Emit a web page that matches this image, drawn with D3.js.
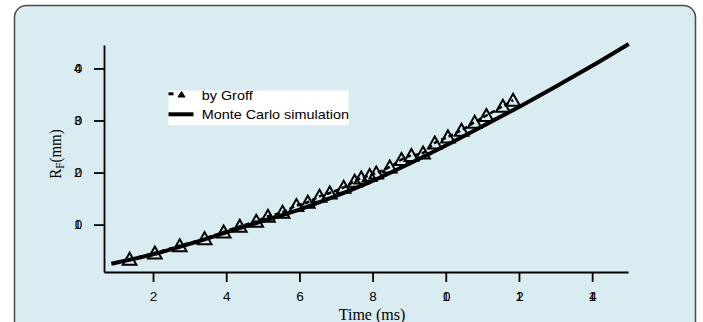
<!DOCTYPE html>
<html>
<head>
<meta charset="utf-8">
<script src="https://cdn.jsdelivr.net/npm/d3@7"></script>
<style>
    body { margin: 0; background: #fff; }
    svg { display: block; }
</style>
</head>
<body>
<div class="vis"></div>
<script>
(function () {
    const svgWidth = 703;
    const svgHeight = 322;

    // Monte Carlo simulation (solid curve)
    var mcTime = [0.86, 2, 3, 4, 5, 6, 7, 8, 9, 10, 11, 12, 13, 14, 15];
    var mcRadius = [2.5, 4.3, 6.3, 8.5, 10.7, 12.9, 15.5, 18.4, 21.7, 25.2, 28.9, 32.6, 36.5, 40.5, 44.7];

    // Groff measurements (triangles)
    var groffTime = [1.36, 2.05, 2.73, 3.41, 3.93, 4.37, 4.82, 5.14, 5.54, 5.92, 6.23, 6.55, 6.83, 7.21, 7.51,
        7.69, 7.92, 8.10, 8.47, 8.79, 9.06, 9.38, 9.70, 10.06, 10.43, 10.79, 11.11, 11.56, 11.84];
    var groffRadius = [3.33, 4.54, 5.96, 7.31, 8.58, 9.67, 10.63, 11.6, 12.37, 13.65, 14.29, 15.44, 16.08, 17.17, 18.33,
        18.96, 19.42, 19.92, 21.08, 22.5, 23.27, 23.77, 25.69, 26.85, 28.13, 29.67, 30.96, 32.75, 33.9];

    var xTicks = [2, 4, 6, 8, 10, 12, 14];
    var yTicks = [10, 20, 30, 40];

    var svg = d3.select('.vis')
        .append('svg')
            .attr('width', svgWidth)
            .attr('height', svgHeight);

    // panel background
    svg.append('rect')
        .attr('x', 14.5)
        .attr('y', 5.5)
        .attr('width', 681)
        .attr('height', 340)
        .attr('rx', 12)
        .attr('fill', '#d8ecf1')
        .attr('stroke', '#4a4a4a')
        .attr('stroke-width', 1.5);

    var xScale = d3.scaleLinear()
        .domain([0.66, 14.98])
        .range([104, 628]);

    var yScale = d3.scaleLinear()
        .domain([0.9, 44.5])
        .range([272, 45]);

    // two-digit labels are drawn with the digits almost on top of each other, as in the original
    function overlapLabels(sel, anchorShift) {
        sel.selectAll('.tick text')
            .attr('font-family', 'Liberation Sans, Arial, sans-serif')
            .attr('font-size', 13.5)
            .attr('fill', '#000')
            .each(function (d) {
                var t = d3.select(this);
                if (String(d).length > 1) {
                    t.attr('text-anchor', 'start')
                        .attr('letter-spacing', '-0.5em')
                        .attr('dx', anchorShift);
                }
            });
    }

    var xAxis = d3.axisBottom(xScale)
        .tickValues(xTicks)
        .tickSize(10)
        .tickSizeOuter(0)
        .tickPadding(9);

    var callxAxis = svg.append('g')
        .attr('transform', 'translate(0, 272)')
        .call(xAxis);
    callxAxis.select('.domain').attr('stroke-width', 1.8);
    callxAxis.selectAll('.tick line').attr('stroke-width', 1.8);
    overlapLabels(callxAxis, '-0.3em');

    var yAxis = d3.axisLeft(yScale)
        .tickValues(yTicks)
        .tickSize(10)
        .tickSizeOuter(0)
        .tickPadding(12);

    var callyAxis = svg.append('g')
        .attr('transform', 'translate(104, 0)')
        .call(yAxis);
    callyAxis.select('.domain').attr('stroke-width', 1.8);
    callyAxis.selectAll('.tick line').attr('stroke-width', 1.8);
    overlapLabels(callyAxis, '-0.6em');

    // axis titles
    svg.append('text')
        .attr('x', 372)
        .attr('y', 319.5)
        .attr('text-anchor', 'middle')
        .attr('font-family', 'Liberation Serif, Times New Roman, serif')
        .attr('font-size', 16)
        .text('Time (ms)');

    var yTitle = svg.append('text')
        .attr('transform', 'translate(61, 154) rotate(-90) scale(1, 1.15)')
        .attr('text-anchor', 'middle')
        .attr('font-family', 'Liberation Serif, Times New Roman, serif')
        .attr('font-size', 15);
    yTitle.append('tspan').text('R');
    yTitle.append('tspan').attr('font-size', 11).attr('dy', 3).text('F');
    yTitle.append('tspan').attr('dy', -3).text('(mm)');

    var mcData = mcTime.map(function (t, i) { return { t: t, r: mcRadius[i] }; });
    var groffData = groffTime.map(function (t, i) { return { t: t, r: groffRadius[i] }; });

    var line = d3.line()
        .x(function (d) { return xScale(d.t); })
        .y(function (d) { return yScale(d.r); })
        .curve(d3.curveCatmullRom);

    // Groff: dashed line with open triangles
    svg.append('path')
        .datum(groffData)
        .attr('d', line)
        .attr('fill', 'none')
        .attr('stroke', '#000')
        .attr('stroke-width', 2.5)
        .attr('stroke-dasharray', '5,3');

    // Monte Carlo curve
    svg.append('path')
        .datum(mcData)
        .attr('d', line)
        .attr('fill', 'none')
        .attr('stroke', '#000')
        .attr('stroke-width', 4);

    var tri = 'M0,-6.5L6.8,5.5L-6.8,5.5Z';
    svg.append('g')
        .selectAll('path')
        .data(groffData)
        .enter().append('path')
            .attr('transform', function (d) { return 'translate(' + xScale(d.t) + ',' + yScale(d.r) + ')'; })
            .attr('d', tri)
            .attr('fill', 'none')
            .attr('stroke', '#000')
            .attr('stroke-width', 2);

    // legend
    var legend = svg.append('g');
    legend.append('rect')
        .attr('x', 168.5)
        .attr('y', 90.5)
        .attr('width', 180)
        .attr('height', 34.5)
        .attr('fill', '#fff');
    legend.append('rect')
        .attr('x', 168.5).attr('y', 92.3)
        .attr('width', 5).attr('height', 3)
        .attr('fill', '#000');
    legend.append('path')
        .attr('d', 'M181.5,91.5L185,97L178,97Z')
        .attr('fill', '#000')
        .attr('stroke', '#000')
        .attr('stroke-width', 1);
    legend.append('rect')
        .attr('x', 168.5).attr('y', 112.3)
        .attr('width', 25).attr('height', 4)
        .attr('fill', '#000');

    var legendLabels = ['by Groff', 'Monte Carlo simulation'];
    var legendY = [99.5, 118.8];
    legend.selectAll('text.lab')
        .data(legendLabels)
        .enter().append('text')
            .attr('class', 'lab')
            .attr('transform', function (d, i) { return 'translate(201.7,' + legendY[i] + ') scale(1.2, 1)'; })
            .attr('font-family', 'Liberation Sans, Arial, sans-serif')
            .attr('font-size', 12)
            .attr('fill', '#000')
            .text(function (d) { return d; });

} (d3));
</script>
</body>
</html>
